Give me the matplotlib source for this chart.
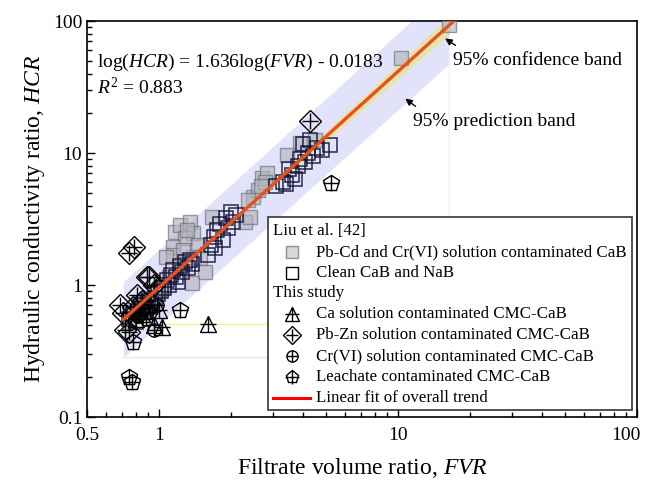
import numpy as np
import matplotlib.pyplot as plt
from matplotlib.patches import Rectangle
from matplotlib.transforms import ScaledTranslation

plt.rcParams['font.family'] = 'Liberation Serif'
plt.rcParams['mathtext.fontset'] = 'custom'
plt.rcParams['mathtext.rm'] = 'Liberation Serif'
plt.rcParams['mathtext.it'] = 'Liberation Serif:italic'

# Liu et al. [42] - Pb-Cd and Cr(VI) solution contaminated CaB
pbcd_fvr = [0.75, 0.78, 0.82, 0.86, 0.90, 0.93, 0.97, 1.02, 0.80, 0.88,
            1.17, 1.22, 1.35, 1.39, 1.29, 1.15, 1.14, 1.45, 1.39, 1.49,
            1.56, 1.37, 1.07, 1.66, 2.30, 1.31, 1.22, 1.10, 1.04, 1.26,
            2.48, 2.60, 2.71, 2.84, 2.79, 2.66, 3.43, 2.40, 3.90, 4.50,
            2.36, 10.3, 16.3]
pbcd_hcr = [0.52, 0.60, 0.66, 0.72, 0.80, 0.68, 0.86, 0.93, 0.62, 0.78,
            2.52, 2.85, 3.00, 2.48, 2.27, 1.94, 1.69, 2.00, 1.64, 1.61,
            1.25, 1.03, 1.64, 3.30, 3.00, 2.60, 1.37, 1.15, 0.97, 1.84,
            4.64, 5.20, 6.50, 7.10, 6.00, 5.60, 9.60, 3.30, 11.9, 12.6,
            4.40, 52.0, 93.0]

# Liu et al. [42] - Clean CaB and NaB
clean_fvr = [0.75, 0.78, 0.82, 0.85, 0.88, 0.90, 0.93, 0.96, 0.99, 1.02, 0.80,
             1.08, 1.12, 1.15, 1.18, 1.22, 1.25, 1.28, 1.32, 1.35, 1.20, 1.10, 1.38, 1.05,
             1.60, 1.65, 1.70, 1.75, 1.80, 1.85, 1.90, 1.95, 2.00, 2.10, 1.72, 2.05,
             3.10, 3.30, 3.40, 3.60, 3.50, 3.80, 3.90, 4.10, 4.20, 4.40, 4.60, 4.80,
             5.20, 4.00, 3.70, 4.30]
clean_hcr = [0.55, 0.60, 0.63, 0.70, 0.66, 0.75, 0.72, 0.80, 0.85, 0.90, 0.52,
             1.10, 1.20, 1.30, 1.15, 1.40, 1.25, 1.50, 1.35, 1.55, 1.05, 1.00, 1.45, 0.95,
             1.70, 2.00, 2.30, 2.60, 2.90, 2.20, 3.20, 2.70, 3.60, 3.40, 1.90, 3.00,
             5.60, 6.00, 5.80, 6.80, 7.50, 8.00, 9.00, 8.50, 10.0, 9.50, 11.0, 10.5,
             11.5, 11.8, 6.30, 12.5]

# This study
ca_fvr = [1.60, 1.03, 0.95, 0.85, 0.90, 1.00, 0.80]
ca_hcr = [0.507, 0.48, 0.50, 0.60, 0.70, 0.65, 0.55]

pbzn_fvr = [4.30, 0.79, 0.75, 0.91, 0.69, 0.71, 0.72, 0.75, 0.81, 0.89, 0.95, 0.78, 0.85]
pbzn_hcr = [17.5, 1.95, 1.75, 1.15, 0.71, 0.61, 0.46, 0.44, 0.84, 1.15, 1.00, 0.68, 0.75]

cr_fvr = [0.95, 0.88, 0.92, 0.82, 0.98, 0.85]
cr_hcr = [0.46, 0.55, 0.62, 0.58, 0.70, 0.66]

leach_fvr = [5.25, 1.22, 0.78, 0.75, 0.77]
leach_hcr = [5.93, 0.647, 0.37, 0.20, 0.185]

# overall fit: log(HCR) = 1.636 log(FVR) - 0.0183
slope, intercept = 1.636, -0.0183
band_x = (0.71, 16.4)

fig = plt.figure(figsize=(6.48, 4.8), dpi=100)
ax = fig.add_axes([87 / 648, 63 / 480, 550 / 648, 396 / 480])
ax.set_xscale('log')
ax.set_yscale('log')

# prediction and confidence bands
lx = np.linspace(np.log10(band_x[0]), np.log10(band_x[1]), 200)
ly = slope * lx + intercept
ci = 0.016 * np.sqrt(1 + ((lx - 0.15) / 0.25) ** 2)
pi = np.sqrt(0.285 ** 2 + ci ** 2)
ax.fill_between(10 ** lx, 10 ** (ly - pi), 10 ** (ly + pi), color='#e2e2fb', lw=0, zorder=1)
ax.fill_between(10 ** lx, 10 ** (ly - ci), 10 ** (ly + ci), color='#e6e3ac', lw=0, zorder=2)
# faint outline artefacts of the bands
ax.plot(band_x, [0.507, 0.507], color='#f2f08a', lw=0.9, zorder=1.5)
ax.plot(band_x, [0.285, 0.285], color='#e6e6f6', lw=1.0, zorder=1.5)
ax.plot([band_x[1], band_x[1]], [0.285, 100], color='#f0f0f6', lw=1.0, zorder=1.5)

# Liu et al. data
ax.plot(pbcd_fvr, pbcd_hcr, ls='none', marker='s', ms=9.5, mfc='#b4b4bc', mec='#6c6c78',
        mew=1.0, alpha=0.65, zorder=3)
ax.plot(clean_fvr, clean_hcr, ls='none', marker='s', ms=9.5, mfc='none', mec='#14143a',
        mew=1.1, alpha=0.9, zorder=4)


def crossed(xs, ys, marker, ms, **kw):
    ax.plot(xs, ys, ls='none', marker=marker, ms=ms, mfc='none', mec='k', mew=1.0, **kw)
    ax.plot(xs, ys, ls='none', marker='+', ms=ms, mec='k', mew=1.0, **kw)


crossed(ca_fvr, ca_hcr, '^', 12, zorder=5)
crossed(pbzn_fvr, pbzn_hcr, 'D', 11.5, zorder=5)
crossed(cr_fvr, cr_hcr, 'o', 9.5, zorder=5)
crossed(leach_fvr, leach_hcr, 'p', 12, zorder=5)

# fit line
fit_x = np.array([band_x[0], 17.1])
ax.plot(fit_x, 10 ** (slope * np.log10(fit_x) + intercept), color='#e9501c', lw=2.4, zorder=6)

ax.set_xlim(0.5, 100)
ax.set_ylim(0.1, 100)
ax.set_xticks([0.5, 1, 10, 100])
ax.set_xticklabels(['0.5', '1', '10', '100'])
ax.set_yticks([0.1, 1, 10, 100])
ax.set_yticklabels(['0.1', '1', '10', '100'])
ax.tick_params(which='both', direction='in', top=False, right=False, labelsize=14, width=1.0)
ax.tick_params(which='major', length=6)
ax.tick_params(axis='x', which='major', pad=7)
ax.tick_params(which='minor', length=3.5)
for sp in ax.spines.values():
    sp.set_linewidth(1.2)
# keep the last x label inside the figure
last = ax.get_xticklabels()[-1]
last.set_transform(last.get_transform() + ScaledTranslation(-8 / 72, 0, fig.dpi_scale_trans))

ax.set_xlabel('Filtrate volume ratio, $FVR$', fontsize=17, labelpad=9)
ax.set_ylabel('Hydraulic conductivity ratio, $HCR$', fontsize=17, labelpad=4)

ax.text(0.018, 0.896, 'log($HCR$) = 1.636log($FVR$) - 0.0183', transform=ax.transAxes,
        fontsize=14, va='center', ha='left')
ax.text(0.018, 0.833, '$R^2$ = 0.883', transform=ax.transAxes, fontsize=14, va='center', ha='left')

arrow = dict(arrowstyle='-|>', color='k', lw=1.0, mutation_scale=10)
ax.annotate('', xy=(15.4, 75.7), xytext=(17.8, 63.6), arrowprops=arrow, zorder=7)
ax.text(17.0, 50.6, '95% confidence band', fontsize=14, va='center', ha='left')
ax.annotate('', xy=(10.5, 26.6), xytext=(12.1, 21.9), arrowprops=arrow, zorder=7)
ax.text(11.6, 17.2, '95% prediction band', fontsize=14, va='center', ha='left')

# legend box
tr = ax.transAxes
ax.add_patch(Rectangle((0.329, 0.018), 0.662, 0.487, transform=tr, facecolor='white',
                       edgecolor='#333333', lw=1.2, zorder=8))
rows = [(417 - r) / 396 for r in [231, 252, 273, 293, 314, 335, 356, 377, 398]]
x_head, x_mark, x_text = 0.338, 0.373, 0.416
lg = dict(transform=tr, fontsize=12.2, va='center', ha='left', zorder=9)
ax.text(x_head, rows[0], 'Liu et al. [42]', **lg)
ax.text(x_head, rows[3], 'This study', **lg)
labels = ['Pb-Cd and Cr(VI) solution contaminated CaB', 'Clean CaB and NaB',
          'Ca solution contaminated CMC-CaB', 'Pb-Zn solution contaminated CMC-CaB',
          'Cr(VI) solution contaminated CMC-CaB', 'Leachate contaminated CMC-CaB',
          'Linear fit of overall trend']
for lab, r in zip(labels, [rows[1], rows[2]] + rows[4:]):
    ax.text(x_text, r, lab, **lg)
mk = dict(transform=tr, ls='none', zorder=9, clip_on=False)
ax.plot([x_mark], [rows[1]], marker='s', ms=8, mfc='#d8d8d8', mec='#909090', mew=1.0, **mk)
ax.plot([x_mark], [rows[2]], marker='s', ms=8, mfc='none', mec='k', mew=1.0, **mk)
for r, m, s in [(rows[4], '^', 10), (rows[5], 'D', 9), (rows[6], 'o', 8), (rows[7], 'p', 9.5)]:
    ax.plot([x_mark], [r], marker=m, ms=s, mfc='none', mec='k', mew=1.0, **mk)
    ax.plot([x_mark], [r], marker='+', ms=s, mec='k', mew=1.0, **mk)
ax.plot([0.338, 0.405], [rows[8], rows[8]], transform=tr, color='red', lw=2.2, zorder=9, clip_on=False)

fig.savefig('out.png', dpi=100)
